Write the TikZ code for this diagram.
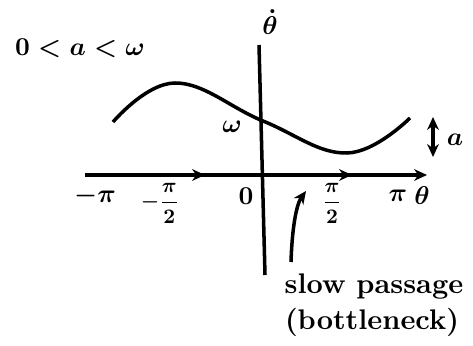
\documentclass[tikz,border=0pt]{standalone}
\usepackage{amsmath}
\usepackage{tikz}
\usetikzlibrary{positioning,arrows.meta}

\begin{document}
\begin{tikzpicture}[x=0.03cm, y=-0.03cm, line width=3pt, >={Stealth[length=11pt,width=10pt]},
  every node/.style={font=\bfseries, scale=2.2}, lbl/.style={inner sep=0.5pt}]
\useasboundingbox (0,0) rectangle (473,346);
\coordinate (xl) at (85,175);
\coordinate (xr) at (427,175);
\coordinate (yt) at (259,45);
\coordinate (yb) at (265,275);
\node[lbl] (cond) at (80,48) {$\boldsymbol{0<a<\omega}$};
\node[lbl] (thdot) at (270,22) {$\boldsymbol{\dot\theta}$};
\node[lbl] (om) at (232,127) {$\boldsymbol{\omega}$};
\node[lbl] (mpi) at (95,196) {$\boldsymbol{-\pi}$};
\node[lbl, scale=0.8] (mhalf) at (160,203) {$\boldsymbol{-\dfrac{\pi}{2}}$};
\node[lbl] (zero) at (246,196) {$\boldsymbol{0}$};
\node[lbl, scale=0.8] (half) at (332,203) {$\boldsymbol{\dfrac{\pi}{2}}$};
\node[lbl] (pi) at (398,196) {$\boldsymbol{\pi}$};
\node[lbl] (th) at (422,196) {$\boldsymbol{\theta}$};
\node[lbl] (amp) at (455,140) {$\boldsymbol{a}$};
\node[lbl, scale=1.1] (slow) at (374,287) {slow passage};
\node[lbl, scale=1.1] (bneck) at (372,322) {(bottleneck)};
\coordinate (at) at (433,117);
\coordinate (ab) at (433,157);
\coordinate (tip) at (306,191);

\draw[->] (xl) -- (xr);
\draw (yt) -- (yb);
\draw plot[smooth, tension=0.7] coordinates {(113,122) (175,83) (263,121) (347,153) (410,118)};
\draw[->] (170,175) -- (205,175);
\draw[->] (325,175) -- (352,175);
\draw[<->] (at) -- (ab);
\draw[->] (291,262) .. controls (292,230) and (296,205) .. (tip);
\end{tikzpicture}
\end{document}
